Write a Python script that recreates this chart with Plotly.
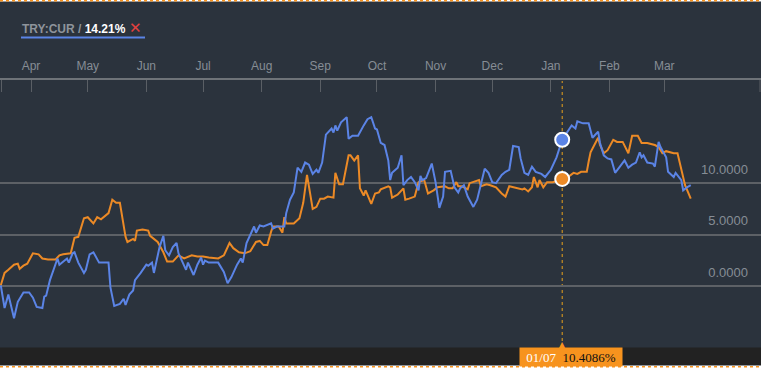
import plotly.graph_objects as go

# ---------------- data ----------------
blue_dates = [
    "2019-03-16", "2019-03-18", "2019-03-20", "2019-03-21", "2019-03-23", "2019-03-25", "2019-03-28", "2019-03-31",
    "2019-04-02", "2019-04-04", "2019-04-07", "2019-04-08", "2019-04-09", "2019-04-11", "2019-04-15", "2019-04-16",
    "2019-04-18", "2019-04-20", "2019-04-21", "2019-04-23", "2019-04-24", "2019-04-26", "2019-04-29", "2019-04-30",
    "2019-05-02", "2019-05-04", "2019-05-07", "2019-05-09", "2019-05-12", "2019-05-13", "2019-05-15", "2019-05-18",
    "2019-05-20", "2019-05-21", "2019-05-23", "2019-05-25", "2019-05-26", "2019-05-29", "2019-06-01", "2019-06-02",
    "2019-06-04", "2019-06-05", "2019-06-08", "2019-06-10", "2019-06-11", "2019-06-13", "2019-06-15", "2019-06-17",
    "2019-06-18", "2019-06-19", "2019-06-22", "2019-06-23", "2019-06-26", "2019-06-28", "2019-06-30", "2019-07-01",
    "2019-07-02", "2019-07-04", "2019-07-07", "2019-07-09", "2019-07-12", "2019-07-14", "2019-07-16", "2019-07-17",
    "2019-07-19", "2019-07-21", "2019-07-22", "2019-07-24", "2019-07-26", "2019-07-28", "2019-07-29", "2019-07-31",
    "2019-08-02", "2019-08-06", "2019-08-07", "2019-08-09", "2019-08-13", "2019-08-14", "2019-08-16", "2019-08-18",
    "2019-08-20", "2019-08-22", "2019-08-24", "2019-08-26", "2019-08-28", "2019-08-30", "2019-08-31", "2019-09-02",
    "2019-09-04", "2019-09-07", "2019-09-08", "2019-09-09", "2019-09-10", "2019-09-12", "2019-09-15", "2019-09-16",
    "2019-09-18", "2019-09-21", "2019-09-24", "2019-09-26", "2019-09-28", "2019-09-30", "2019-10-01", "2019-10-03",
    "2019-10-05", "2019-10-07", "2019-10-08", "2019-10-09", "2019-10-12", "2019-10-14", "2019-10-15", "2019-10-17",
    "2019-10-19", "2019-10-21", "2019-10-23", "2019-10-24", "2019-10-25", "2019-10-27", "2019-10-30", "2019-11-01",
    "2019-11-03", "2019-11-05", "2019-11-06", "2019-11-09", "2019-11-11", "2019-11-13", "2019-11-14", "2019-11-16",
    "2019-11-18", "2019-11-21", "2019-11-23", "2019-11-25", "2019-11-27", "2019-11-29", "2019-12-01", "2019-12-03",
    "2019-12-06", "2019-12-08", "2019-12-10", "2019-12-12", "2019-12-15", "2019-12-16", "2019-12-18", "2019-12-20",
    "2019-12-22", "2019-12-24", "2019-12-27", "2019-12-29", "2020-01-01", "2020-01-04", "2020-01-06", "2020-01-07",
    "2020-01-12", "2020-01-14", "2020-01-15", "2020-01-18", "2020-01-21", "2020-01-23", "2020-01-24", "2020-01-26",
    "2020-01-27", "2020-01-29", "2020-01-31", "2020-02-02", "2020-02-04", "2020-02-06", "2020-02-09", "2020-02-11",
    "2020-02-13", "2020-02-15", "2020-02-17", "2020-02-18", "2020-02-19", "2020-02-21", "2020-02-24", "2020-02-25",
    "2020-02-27", "2020-02-28", "2020-03-02", "2020-03-03", "2020-03-06", "2020-03-07", "2020-03-10", "2020-03-11",
    "2020-03-13", "2020-03-15",
]
blue_values = [
    0.1, -2.1, -0.8, -1.6, -3.1, -1.5, -0.6, -0.6,
    -1.1, -2.0, -2.1, -1.0, -0.9, 0.6, 2.7, 2.1,
    2.4, 2.7, 2.3, 3.2, 3.3, 2.3, 1.3, 1.6,
    3.1, 3.3, 2.3, 2.3, 2.3, -0.1, -1.9, -1.7,
    -1.2, -1.8, -0.8, -0.4, 0.6, 1.3, 2.1, 2.0,
    2.3, 1.3, 3.8, 4.9, 3.5, 3.0, 3.8, 4.2,
    3.2, 2.8, 1.6, 2.3, 1.1, 2.1, 2.8, 2.1,
    2.5, 2.3, 2.3, 2.3, 1.4, 0.3, 0.9, 1.3,
    2.1, 2.7, 2.3, 4.2, 5.0, 5.8, 5.2, 5.9,
    5.8, 6.1, 5.6, 5.8, 5.8, 7.1, 8.4, 9.1,
    11.5, 11.1, 12.0, 11.8, 10.9, 11.3, 11.0, 12.0,
    14.7, 15.3, 14.9, 15.6, 15.1, 15.9, 16.4, 14.3,
    14.6, 14.6, 15.6, 16.2, 16.4, 15.3, 15.2, 13.9,
    13.7, 12.2, 10.3, 11.0, 11.5, 12.7, 9.8, 10.3,
    10.6, 10.1, 9.3, 10.7, 10.3, 10.5, 11.9, 10.1,
    7.6, 8.7, 11.1, 11.2, 9.6, 9.1, 9.5, 9.8,
    8.7, 7.7, 8.4, 9.8, 11.4, 11.0, 10.1, 10.0,
    10.8, 11.1, 11.3, 13.6, 13.5, 12.4, 11.0, 10.8,
    11.6, 11.1, 10.9, 10.6, 11.3, 12.5, 13.5, 14.21,
    15.6, 15.3, 16.0, 15.8, 15.8, 14.4, 14.6, 15.0,
    13.9, 12.7, 12.4, 12.3, 11.0, 11.5, 12.2, 11.5,
    11.8, 12.0, 13.0, 12.5, 12.7, 12.0, 11.9, 11.6,
    14.0, 13.5, 12.5, 11.1, 10.6, 11.0, 10.3, 9.3,
    9.6, 9.8,
]

orange_dates = [
    "2019-03-16", "2019-03-18", "2019-03-20", "2019-03-23", "2019-03-25", "2019-03-26", "2019-03-28", "2019-03-30",
    "2019-04-02", "2019-04-05", "2019-04-07", "2019-04-10", "2019-04-14", "2019-04-16", "2019-04-18", "2019-04-22",
    "2019-04-24", "2019-04-26", "2019-04-29", "2019-05-01", "2019-05-04", "2019-05-06", "2019-05-08", "2019-05-11",
    "2019-05-12", "2019-05-14", "2019-05-16", "2019-05-18", "2019-05-21", "2019-05-22", "2019-05-25", "2019-05-26",
    "2019-05-27", "2019-05-30", "2019-06-02", "2019-06-03", "2019-06-07", "2019-06-10", "2019-06-12", "2019-06-15",
    "2019-06-18", "2019-06-21", "2019-06-25", "2019-06-28", "2019-07-01", "2019-07-04", "2019-07-09", "2019-07-12",
    "2019-07-15", "2019-07-17", "2019-07-20", "2019-07-23", "2019-07-26", "2019-07-29", "2019-07-31", "2019-08-02",
    "2019-08-04", "2019-08-06", "2019-08-07", "2019-08-10", "2019-08-12", "2019-08-13", "2019-08-14", "2019-08-18",
    "2019-08-21", "2019-08-23", "2019-08-25", "2019-08-28", "2019-08-30", "2019-09-01", "2019-09-03", "2019-09-05",
    "2019-09-08", "2019-09-09", "2019-09-11", "2019-09-13", "2019-09-16", "2019-09-17", "2019-09-19", "2019-09-21",
    "2019-09-22", "2019-09-24", "2019-09-25", "2019-09-28", "2019-09-30", "2019-10-02", "2019-10-03", "2019-10-07",
    "2019-10-08", "2019-10-09", "2019-10-12", "2019-10-15", "2019-10-16", "2019-10-18", "2019-10-21", "2019-10-23",
    "2019-10-26", "2019-10-28", "2019-10-31", "2019-11-02", "2019-11-06", "2019-11-08", "2019-11-10", "2019-11-12",
    "2019-11-13", "2019-11-15", "2019-11-18", "2019-11-19", "2019-11-22", "2019-11-24", "2019-11-25", "2019-11-28",
    "2019-11-30", "2019-12-03", "2019-12-06", "2019-12-08", "2019-12-10", "2019-12-13", "2019-12-17", "2019-12-18",
    "2019-12-20", "2019-12-22", "2019-12-23", "2019-12-25", "2019-12-26", "2019-12-28", "2019-12-30", "2020-01-02",
    "2020-01-05", "2020-01-07", "2020-01-10", "2020-01-13", "2020-01-15", "2020-01-17", "2020-01-20", "2020-01-21",
    "2020-01-22", "2020-01-24", "2020-01-26", "2020-01-27", "2020-01-29", "2020-01-31", "2020-02-03", "2020-02-05",
    "2020-02-08", "2020-02-11", "2020-02-13", "2020-02-16", "2020-02-18", "2020-02-21", "2020-02-25", "2020-02-27",
    "2020-02-29", "2020-03-02", "2020-03-06", "2020-03-08", "2020-03-10", "2020-03-12", "2020-03-15",
]
orange_values = [
    0.1, 1.3, 1.6, 2.1, 2.2, 1.7, 2.0, 2.2,
    3.2, 3.1, 2.7, 2.6, 2.6, 3.0, 3.1, 3.2,
    4.7, 4.8, 6.6, 6.7, 6.1, 6.7, 6.5, 6.9,
    7.1, 8.4, 8.1, 8.1, 4.8, 4.3, 4.6, 4.4,
    5.4, 5.5, 5.4, 4.9, 4.3, 3.3, 2.4, 2.4,
    3.0, 2.7, 3.0, 2.9, 2.9, 2.8, 2.7, 3.0,
    4.2, 3.7, 3.3, 3.2, 3.4, 4.3, 4.4, 4.0,
    4.0, 5.3, 5.8, 5.8, 5.2, 6.7, 6.1, 6.1,
    6.6, 8.1, 10.8, 7.5, 7.7, 8.5, 8.5, 8.7,
    8.6, 11.0, 9.9, 9.9, 12.7, 12.7, 12.2, 12.7,
    9.5, 8.8, 9.3, 8.0, 9.0, 9.1, 9.4, 9.7,
    9.6, 8.6, 8.9, 9.5, 8.4, 8.5, 8.7, 10.1,
    10.3, 9.0, 9.3, 9.6, 9.7, 9.5, 9.5, 10.1,
    9.7, 9.7, 9.4, 10.0, 10.2, 10.3, 9.7, 9.9,
    9.8, 9.6, 9.0, 8.7, 9.7, 9.6, 9.4, 9.5,
    9.2, 9.6, 10.6, 9.6, 10.3, 9.6, 10.1, 10.1,
    10.3, 10.4086, 10.6, 11.0, 10.9, 11.1, 11.1, 12.1,
    13.0, 13.7, 14.4, 13.7, 12.9, 13.2, 14.2, 14.0,
    14.0, 12.9, 14.6, 14.6, 13.9, 13.9, 13.7, 13.5,
    12.9, 13.1, 12.9, 12.9, 11.3, 9.8, 8.5,
]

month_ticks = ["2019-04-01", "2019-05-01", "2019-06-01", "2019-07-01", "2019-08-01", "2019-09-01",
               "2019-10-01", "2019-11-01", "2019-12-01", "2020-01-01", "2020-02-01", "2020-03-01"]
month_labels = ["Apr", "May", "Jun", "Jul", "Aug", "Sep", "Oct", "Nov", "Dec", "Jan", "Feb", "Mar"]
y_ticks = [0, 5, 10]
cross_date = "2020-01-07"
series_name = "TRY:CUR"

# ---------------- style ----------------
BG = "#2b333d"
BAR = "#222222"
BLUE = "#5b84e6"
ORANGE = "#ec8a26"
ORANGE_UI = "#f7931e"
GRID = "#5d6166"
TXT = "#868d95"
FONT = "Arial, Liberation Sans, sans-serif"

W, H = 761, 369
TOP, BOTTOM = 80, 347          # plot area in pixels


def py(Y):
    """pixel row -> paper y"""
    return (BOTTOM - Y) / (BOTTOM - TOP)


def px(X):
    return X / W


bi = blue_dates.index(cross_date)
oi = orange_dates.index(cross_date)
blue_at = blue_values[bi]
orange_at = orange_values[oi]

fig = go.Figure()
fig.add_trace(go.Scatter(x=orange_dates, y=orange_values, mode="lines",
                         line=dict(color=ORANGE, width=2), hoverinfo="skip"))
fig.add_trace(go.Scatter(x=blue_dates, y=blue_values, mode="lines",
                         line=dict(color=BLUE, width=2), hoverinfo="skip"))
fig.add_trace(go.Scatter(x=[cross_date], y=[blue_at], mode="markers",
                         marker=dict(size=14, color=BLUE, line=dict(color="white", width=2)),
                         hoverinfo="skip"))
fig.add_trace(go.Scatter(x=[cross_date], y=[orange_at], mode="markers",
                         marker=dict(size=14, color=ORANGE, line=dict(color="white", width=2)),
                         hoverinfo="skip"))

shapes = [
    # bottom dark bar
    dict(type="rect", xref="paper", yref="paper", x0=0, x1=1, y0=py(365.5), y1=py(347.5),
         fillcolor=BAR, line=dict(width=0), layer="above"),
    # white strips with orange dotted borders
    dict(type="rect", xref="paper", yref="paper", x0=0, x1=1, y0=py(369.5), y1=py(365.5),
         fillcolor="white", line=dict(width=0), layer="above"),
    dict(type="rect", xref="paper", yref="paper", x0=0, x1=1, y0=py(1.5), y1=py(-0.5),
         fillcolor="white", line=dict(width=0), layer="above"),
    dict(type="line", xref="paper", yref="paper", x0=0, x1=1, y0=py(0.7), y1=py(0.7),
         line=dict(color=ORANGE_UI, width=1.5, dash="dot"), layer="above"),
    dict(type="line", xref="paper", yref="paper", x0=0, x1=1, y0=py(366.8), y1=py(366.8),
         line=dict(color=ORANGE_UI, width=1.5, dash="dot"), layer="above"),
    # edge ticks of the month strip
    dict(type="line", xref="paper", yref="paper", x0=px(1.5), x1=px(1.5), y0=py(92), y1=py(80),
         line=dict(color="#5a5f65", width=1), layer="above"),
    dict(type="line", xref="paper", yref="paper", x0=px(760), x1=px(760), y0=py(92), y1=py(80),
         line=dict(color="#5a5f65", width=1), layer="above"),
    # crosshair
    dict(type="line", xref="x", yref="paper", x0=cross_date, x1=cross_date, y0=py(341), y1=py(81),
         line=dict(color="#e9a21b", width=1, dash="dot"), layer="below"),
    # title underline
    dict(type="line", xref="paper", yref="paper", x0=px(21), x1=px(145), y0=py(37.5), y1=py(37.5),
         line=dict(color=BLUE, width=2), layer="above"),
]

annotations = [
    dict(xref="paper", yref="paper", x=px(20), y=py(28), xanchor="left", yanchor="middle",
         showarrow=False,
         text=(f"<b>{series_name} / </b><b><span style='color:#ffffff'>{blue_at:.2f}%</span></b>"
               f" <span style='color:#e3403f;font-size:15px'>✕</span>"),
         font=dict(family=FONT, size=12, color="#8e949b")),
    dict(xref="x", yref="paper", x=cross_date, y=py(344), xanchor="center", yanchor="middle",
         showarrow=False, text="▲", font=dict(size=12, color=ORANGE_UI)),
    dict(xref="paper", yref="paper", x=px(519), y=py(357), xanchor="left", yanchor="middle",
         showarrow=False, bgcolor=ORANGE_UI, borderpad=2, width=98, height=14, align="center",
         text=(f"<span style='color:#ffffff'>01/07</span>  "
               f"<span style='color:#111111'>{orange_at:.4f}%</span>"),
         font=dict(family="Liberation Serif, DejaVu Serif, serif", size=13)),
]

fig.update_layout(
    width=W, height=H,
    margin=dict(l=0, r=0, t=TOP, b=H - BOTTOM, pad=0),
    paper_bgcolor=BG, plot_bgcolor=BG,
    showlegend=False,
    hovermode=False,
    shapes=shapes,
    annotations=annotations,
    xaxis=dict(
        type="date", side="top",
        range=["2019-03-15 14:00", "2020-04-21 04:00"],
        tickvals=month_ticks, ticktext=month_labels,
        ticks="inside", ticklen=12, tickwidth=1, tickcolor="#5a5f65",
        showline=True, linecolor="#6e7378", linewidth=1.5,
        showgrid=False, zeroline=False,
        tickfont=dict(family=FONT, size=12, color=TXT),
        ticklabelstandoff=3,
        fixedrange=True,
    ),
    yaxis=dict(
        range=[-5.88, 20.0],
        side="right",
        tickvals=y_ticks, ticktext=[f"{v:.4f}" for v in y_ticks],
        ticklabelposition="inside top",
        ticklabelstandoff=10,
        ticklabelshift=-5,
        showgrid=True, gridcolor=GRID, gridwidth=1.5,
        zeroline=False, showline=False, ticks="",
        tickfont=dict(family=FONT, size=13, color=TXT),
        fixedrange=True,
    ),
)

fig.write_html("out.html", config={"displayModeBar": False},
               post_script="document.body.style.margin='0';document.body.style.overflow='hidden';")
